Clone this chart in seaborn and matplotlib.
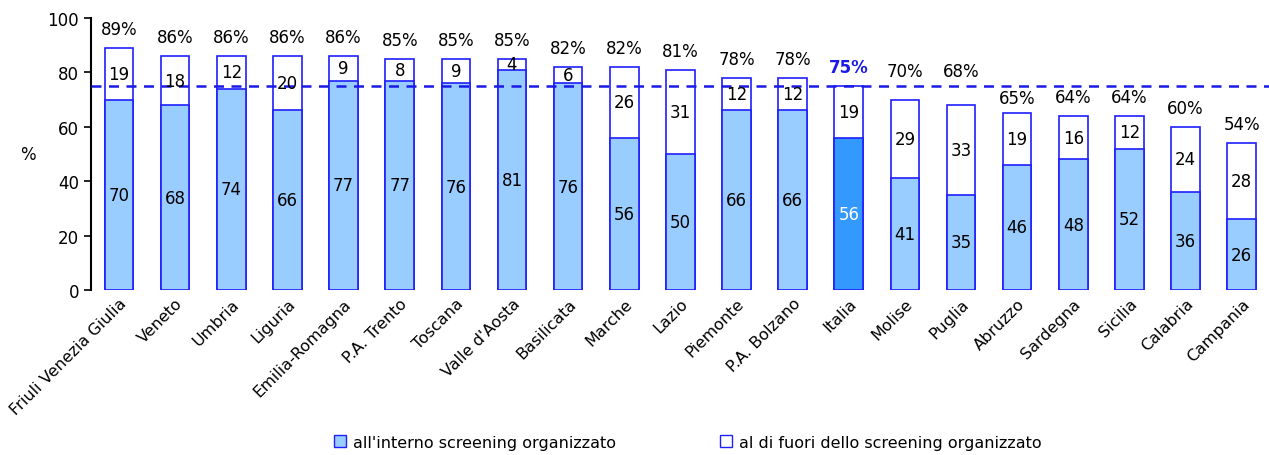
import matplotlib
matplotlib.use("Agg")
import matplotlib.pyplot as plt
import seaborn as sns
import pandas as pd
from matplotlib.lines import Line2D

regions = ["Friuli Venezia Giulia", "Veneto", "Umbria", "Liguria", "Emilia-Romagna",
           "P.A. Trento", "Toscana", "Valle d'Aosta", "Basilicata", "Marche", "Lazio",
           "Piemonte", "P.A. Bolzano", "Italia", "Molise", "Puglia", "Abruzzo",
           "Sardegna", "Sicilia", "Calabria", "Campania"]
inside = [70, 68, 74, 66, 77, 77, 76, 81, 76, 56, 50, 66, 66, 56, 41, 35, 46, 48, 52, 36, 26]
outside = [19, 18, 12, 20, 9, 8, 9, 4, 6, 26, 31, 12, 12, 19, 29, 33, 19, 16, 12, 24, 28]
totals = [89, 86, 86, 86, 86, 85, 85, 85, 82, 82, 81, 78, 78, 75, 70, 68, 65, 64, 64, 60, 54]
ref_value = 75
legend_labels = ["all'interno screening organizzato", "al di fuori dello screening organizzato"]

sns.set_style("white")
plt.rcParams['font.family'] = ['DejaVu Sans']
plt.rcParams['text.color'] = 'black'
plt.rcParams['xtick.color'] = 'black'
plt.rcParams['ytick.color'] = 'black'
plt.rcParams['axes.labelcolor'] = 'black'

df = pd.DataFrame({"region": regions, "inside": inside, "outside": outside,
                   "stack": [i + o for i, o in zip(inside, outside)]})

light = "#99CCFF"
dark = "#3399FF"
edge = "#1f1fff"
pal_in = {r: (dark if r == "Italia" else light) for r in regions}

fig = plt.figure(figsize=(12.69, 4.56), dpi=100)
ax = fig.add_axes([0.0717, 0.3618, 0.928, 0.5965])

bw = 0.51
sns.barplot(data=df, x="region", y="stack", color="white", edgecolor=edge,
            linewidth=1.2, width=bw, ax=ax, zorder=2)
sns.barplot(data=df, x="region", y="inside", hue="region", palette=pal_in, legend=False,
            edgecolor=edge, linewidth=1.2, width=bw, ax=ax, saturation=1, zorder=3)

ax.axhline(ref_value, color="#1a1ae6", linestyle=(0, (4, 3)), linewidth=1.8, zorder=4)

fs = 12
for i, r in enumerate(regions):
    c_in = "white" if r == "Italia" else "black"
    ax.text(i, inside[i] / 2, str(inside[i]), ha="center", va="center", fontsize=fs,
            color=c_in, zorder=5)
    ax.text(i, inside[i] + outside[i] / 2, str(outside[i]), ha="center", va="center",
            fontsize=fs, color="black", zorder=5)
    # total label: above the bar, moved off the dashed reference line if they collide
    c = totals[i] + 7
    if r != "Italia" and ref_value - 4 < c < ref_value + 4.5:
        c = ref_value + 5.5 if c >= ref_value else ref_value - 4.5
    if r == "Italia":
        ax.text(i, c, f"{totals[i]}%", ha="center", va="center", fontsize=fs,
                color="#1a1ae6", fontweight="bold", zorder=5)
    else:
        ax.text(i, c, f"{totals[i]}%", ha="center", va="center", fontsize=fs,
                color="black", zorder=5)

ax.set_ylim(0, 100)
ax.set_xlim(-0.5, 20.48)
ax.set_yticks([0, 20, 40, 60, 80, 100])
ax.tick_params(axis="y", direction="out", length=5, width=1.2, labelsize=12, left=True)
ax.tick_params(axis="x", length=0, labelsize=11.5, pad=4)
ax.set_xticks(range(len(regions)))
ax.set_xticklabels(regions, rotation=45, ha="right", rotation_mode="anchor")
ax.set_xlabel("")
ax.set_ylabel("%", rotation=0, fontsize=12, labelpad=14, va="center")
for s in ["top", "right", "bottom"]:
    ax.spines[s].set_visible(False)
ax.spines["left"].set_color("black")
ax.spines["left"].set_linewidth(1.5)
ax.grid(False)

handles = [Line2D([], [], marker="s", linestyle="none", markersize=8,
                  markerfacecolor=light, markeredgecolor=edge, markeredgewidth=1),
           Line2D([], [], marker="s", linestyle="none", markersize=8,
                  markerfacecolor="white", markeredgecolor=edge, markeredgewidth=1)]
fig.legend(handles, legend_labels, loc="center", bbox_to_anchor=(0.542, 0.028), ncol=2,
           frameon=False, fontsize=11.5, handlelength=0.8, handletextpad=0.4,
           columnspacing=6.5)

fig.savefig("out.png", dpi=100)
